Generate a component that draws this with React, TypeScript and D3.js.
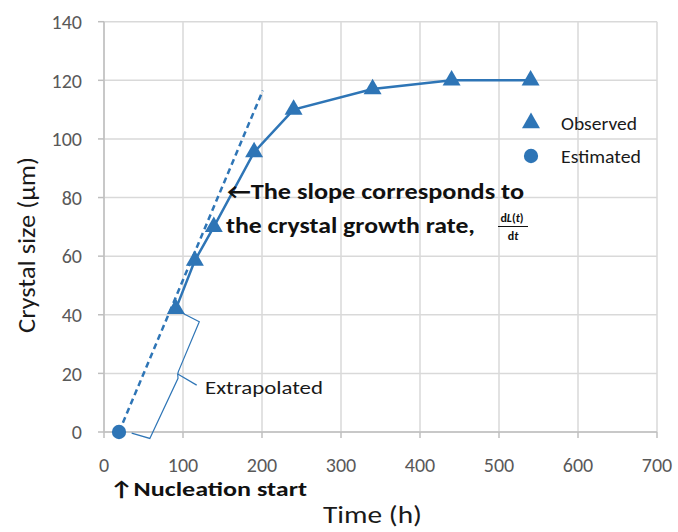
import React from "react";
import * as d3 from "d3";

const observedTime = [91, 115, 139, 190, 240, 340, 440, 540];
const observedSize = [42, 58.5, 70, 95.5, 110, 117, 120, 120];
const estimatedTime = [19];
const estimatedSize = [0];
const extrapTime = [19, 201];
const extrapSize = [0, 116.5];
const xTicks = [0, 100, 200, 300, 400, 500, 600, 700];
const yTicks = [0, 20, 40, 60, 80, 100, 120, 140];
const legendLabels = ["Observed", "Estimated"];
// brace annotation (data units)
const braceLower: [number, number][] = [[35, -0.4], [58, -2.2], [93.7, 18.3], [93.3, 19.8]];
const bracePointer: [number, number][] = [[93.3, 19.8], [117.3, 16.0]];
const braceUpper: [number, number][] = [[93.3, 19.8], [94.1, 20.6], [120.6, 37.6], [98.4, 40.7]];

const W = 678, H = 532;
const M = { left: 104, right: 657, top: 21.7, bottom: 432 };
const BLUE = "#2E75B6";
const FONT = "Carlito, Lato, 'Open Sans', sans-serif";

export default function App() {
  const x = d3.scaleLinear().domain([0, 700]).range([M.left, M.right]);
  const y = d3.scaleLinear().domain([0, 140]).range([M.bottom, M.top]);
  const line = d3.line<[number, number]>().x(d => x(d[0])).y(d => y(d[1]));
  const obs: [number, number][] = observedTime.map((t, i) => [t, observedSize[i]]);
  const ext: [number, number][] = extrapTime.map((t, i) => [t, extrapSize[i]]);
  const tri = d3.symbol().type(d3.symbolTriangle).size(140)();
  const circ = d3.symbol().type(d3.symbolCircle).size(160)();

  return (
    <div style={{ position: "absolute", left: 0, top: 0 }}>
      <svg width={W} height={H} style={{ display: "block", background: "#fff" }}>
        {/* grid */}
        {xTicks.map(t => (
          <line key={"gx" + t} x1={x(t)} x2={x(t)} y1={y(140)} y2={y(0)} stroke="#d9d9d9" strokeWidth={1.5} />
        ))}
        {yTicks.map(t => (
          <line key={"gy" + t} x1={x(0)} x2={x(700)} y1={y(t)} y2={y(t)} stroke="#d9d9d9" strokeWidth={1.5} />
        ))}
        {/* axes */}
        <line x1={x(0)} x2={x(0)} y1={y(140)} y2={y(0)} stroke="#bfbfbf" strokeWidth={1.5} />
        <line x1={x(0)} x2={x(700)} y1={y(0)} y2={y(0)} stroke="#bfbfbf" strokeWidth={1.5} />
        {yTicks.map(t => (
          <g key={"yt" + t}>
            <line x1={x(0) - 6} x2={x(0)} y1={y(t)} y2={y(t)} stroke="#bfbfbf" strokeWidth={1.5} />
            <text x={82} y={y(t)} dy="0.36em" textAnchor="end" fontFamily={FONT} fontSize={20} fill="#595959">{t}</text>
          </g>
        ))}
        {xTicks.map(t => (
          <g key={"xt" + t}>
            <line x1={x(t)} x2={x(t)} y1={y(0)} y2={y(0) + 6} stroke="#bfbfbf" strokeWidth={1.5} />
            <text x={x(t)} y={472} textAnchor="middle" fontFamily={FONT} fontSize={20} fill="#595959">{t}</text>
          </g>
        ))}
        {/* axis titles */}
        <text x={323} y={523} fontFamily={FONT} fontSize={24} fill="#1a1a1a" textLength={99} lengthAdjust="spacingAndGlyphs">Time (h)</text>
        <text transform={`translate(35,${333}) rotate(-90)`} fontFamily={FONT} fontSize={25} fill="#1a1a1a" textLength={176} lengthAdjust="spacingAndGlyphs">Crystal size (μm)</text>

        {/* extrapolation dashed line */}
        <path d={line(ext) || ""} fill="none" stroke={BLUE} strokeWidth={2.5} strokeDasharray="6,4" />
        {/* observed line */}
        <path d={line(obs) || ""} fill="none" stroke={BLUE} strokeWidth={2.5} />
        {obs.map((d, i) => (
          <path key={"o" + i} d={tri || ""} transform={`translate(${x(d[0])},${y(d[1])})`} fill={BLUE} />
        ))}
        {estimatedTime.map((t, i) => (
          <path key={"e" + i} d={circ || ""} transform={`translate(${x(t)},${y(estimatedSize[i])})`} fill={BLUE} />
        ))}

        {/* brace */}
        <path d={line(braceLower) || ""} fill="none" stroke={BLUE} strokeWidth={1.2} />
        <path d={line(bracePointer) || ""} fill="none" stroke={BLUE} strokeWidth={1.2} />
        <path d={line(braceUpper) || ""} fill="none" stroke={BLUE} strokeWidth={1.2} />
        <text x={205} y={394} fontFamily={FONT} fontSize={19} fill="#1a1a1a" textLength={118} lengthAdjust="spacingAndGlyphs">Extrapolated</text>

        {/* slope annotation */}
        <text x={227} y={199} fontFamily={FONT} fontSize={22} fontWeight="bold" fill="#111" textLength={297} lengthAdjust="spacingAndGlyphs">←The slope corresponds to</text>
        <text x={226} y={233} fontFamily={FONT} fontSize={22} fontWeight="bold" fill="#111" textLength={249} lengthAdjust="spacingAndGlyphs">the crystal growth rate,</text>
        <text x={512} y={222} textAnchor="middle" fontFamily={FONT} fontSize={12} fontWeight="bold" fill="#111">
          d<tspan fontStyle="italic">L</tspan>(<tspan fontStyle="italic">t</tspan>)
        </text>
        <line x1={498} x2={528} y1={226.5} y2={226.5} stroke="#111" strokeWidth={1} />
        <text x={513} y={240} textAnchor="middle" fontFamily={FONT} fontSize={12} fontWeight="bold" fill="#111">
          d<tspan fontStyle="italic">t</tspan>
        </text>

        {/* nucleation */}
        <text x={110} y={496} fontFamily={FONT} fontSize={21} fontWeight="bold" fill="#111" textLength={197} lengthAdjust="spacingAndGlyphs">↑Nucleation start</text>

        {/* legend */}
        <path d={tri || ""} transform={`translate(531,${123})`} fill={BLUE} />
        <text x={561} y={130} fontFamily={FONT} fontSize={18} fill="#1a1a1a" textLength={76} lengthAdjust="spacingAndGlyphs">{legendLabels[0]}</text>
        <path d={circ || ""} transform={`translate(531,${156})`} fill={BLUE} />
        <text x={561} y={163} fontFamily={FONT} fontSize={18} fill="#1a1a1a" textLength={80} lengthAdjust="spacingAndGlyphs">{legendLabels[1]}</text>
      </svg>
    </div>
  );
}
